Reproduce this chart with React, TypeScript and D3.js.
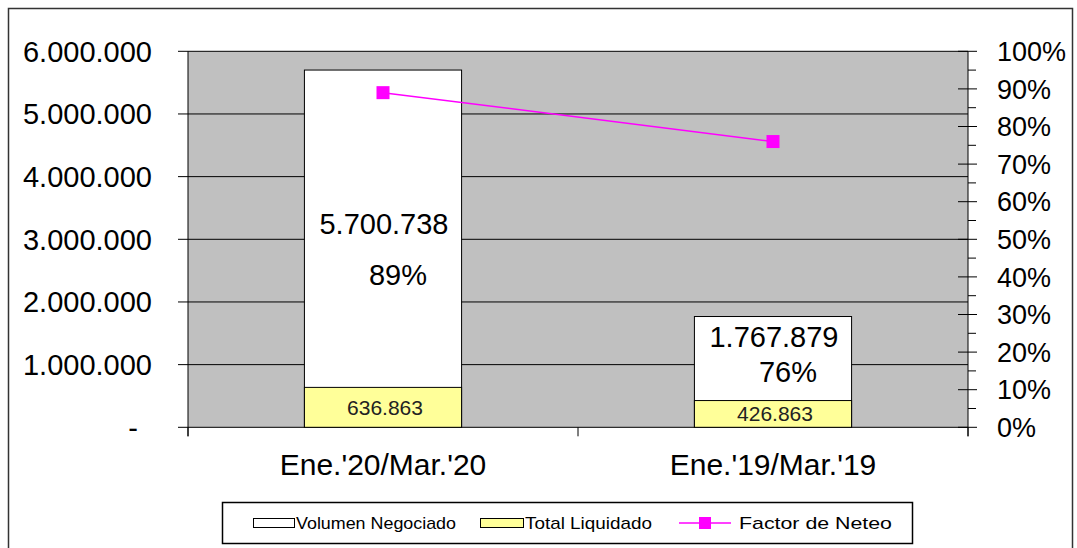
import React from "react";
import * as d3 from "d3";

const categories = ["Ene.'20/Mar.'20", "Ene.'19/Mar.'19"];
const volumenNegociado = [5700738, 1767879];
const totalLiquidado = [636863, 426863];
const factorNeteo = [0.89, 0.76];
const leftTicks = [0, 1000000, 2000000, 3000000, 4000000, 5000000, 6000000];
const rightTicks = [0, 0.1, 0.2, 0.3, 0.4, 0.5, 0.6, 0.7, 0.8, 0.9, 1.0];
const labelOffsets = [[5, 56], [-11.5, 23.5]];

const W = 1077, H = 548;
const FONT = "'Liberation Sans', Arial, sans-serif";

const fmt = (v: number) => {
  if (v === 0) return "-";
  return d3.format(",")(v).replace(/,/g, ".");
};

export default function App() {
  const plot = { left: 188, right: 968, top: 51.3, bottom: 427.3 };
  const x = d3.scaleBand<string>().domain(categories).range([plot.left, plot.right]).paddingInner(0.597).paddingOuter(0.2985);
  const y = d3.scaleLinear().domain([0, 6000000]).range([plot.bottom, plot.top]);
  const y2 = d3.scaleLinear().domain([0, 1]).range([plot.bottom, plot.top]);
  const cx = (c: string) => (x(c) as number) + x.bandwidth() / 2;
  const line = d3.line<number>().x((_, i) => cx(categories[i])).y((d) => y2(d));
  const minorTicks = d3.range(0.05, 1, 0.1);
  const catBounds = [plot.left, (plot.left + plot.right) / 2, plot.right];

  return (
    <svg width={W} height={H} style={{ position: "absolute", left: 0, top: 0, background: "#fff" }} fontFamily={FONT}>
      {/* outer border */}
      <rect x={8.5} y={8.5} width={1064} height={560} fill="#fff" stroke="#333" strokeWidth={1.5} />
      {/* plot area */}
      <rect x={plot.left} y={plot.top} width={plot.right - plot.left} height={plot.bottom - plot.top} fill="#c0c0c0" />
      {/* gridlines + left ticks */}
      {leftTicks.map((t) => (
        <g key={t}>
          <line x1={plot.left - 10} x2={plot.right} y1={y(t)} y2={y(t)} stroke="#000" strokeWidth={1} />
          <text x={t === 0 ? 138 : 152} y={y(t)} dy="0.36em" textAnchor="end" fontSize={29} fill="#000">{fmt(t)}</text>
        </g>
      ))}
      {/* left axis line */}
      <line x1={plot.left} x2={plot.left} y1={plot.top} y2={plot.bottom + 9} stroke="#000" />
      {/* category ticks */}
      {catBounds.map((b, i) => (
        <line key={i} x1={b} x2={b} y1={plot.bottom} y2={plot.bottom + 9} stroke="#000" />
      ))}
      {/* bars */}
      {categories.map((c, i) => (
        <g key={c}>
          <rect x={x(c)} y={y(volumenNegociado[i])} width={x.bandwidth()} height={y(0) - y(volumenNegociado[i])} fill="#fff" stroke="#000" strokeWidth={1} />
          <rect x={x(c)} y={y(totalLiquidado[i])} width={x.bandwidth()} height={y(0) - y(totalLiquidado[i])} fill="#ffff99" stroke="#000" strokeWidth={1} />
          <text x={cx(c) + 2} y={(y(totalLiquidado[i]) + y(0)) / 2} dy="0.36em" textAnchor="middle" fontSize={21} fill="#222">{fmt(totalLiquidado[i])}</text>
        </g>
      ))}
      {/* value labels */}
      {categories.map((c, i) => {
        const mid = (y(volumenNegociado[i]) + y(totalLiquidado[i])) / 2;
        return (
          <g key={c + "l"}>
            <text x={cx(c) + 1} y={mid + labelOffsets[i][0]} textAnchor="middle" fontSize={29} fill="#000">{fmt(volumenNegociado[i])}</text>
            <text x={cx(c) + 15} y={mid + labelOffsets[i][1]} textAnchor="middle" fontSize={29} fill="#000">{Math.round(factorNeteo[i] * 100) + "%"}</text>
          </g>
        );
      })}
      {/* right axis */}
      <line x1={plot.right} x2={plot.right} y1={plot.top} y2={plot.bottom + 9} stroke="#000" />
      {rightTicks.map((t) => (
        <g key={t}>
          <line x1={plot.right - 10} x2={plot.right + 9} y1={y2(t)} y2={y2(t)} stroke="#000" />
          <text x={997} y={y2(t)} dy="0.36em" fontSize={27} fill="#000">{Math.round(t * 100) + "%"}</text>
        </g>
      ))}
      {minorTicks.map((t) => (
        <line key={t} x1={plot.right} x2={plot.right + 8} y1={y2(t)} y2={y2(t)} stroke="#000" />
      ))}
      {/* line series */}
      <path d={line(factorNeteo) || ""} fill="none" stroke="#ff00ff" strokeWidth={1.5} />
      {factorNeteo.map((v, i) => (
        <rect key={i} x={cx(categories[i]) - 6.5} y={y2(v) - 6.5} width={13} height={13} fill="#ff00ff" />
      ))}
      {/* category labels */}
      {categories.map((c) => (
        <text key={c + "c"} x={cx(c)} y={475} textAnchor="middle" fontSize={30} fill="#000">{c}</text>
      ))}
      {/* legend */}
      <rect x={222.5} y={502.5} width={690} height={41} fill="#fff" stroke="#000" strokeWidth={1.5} />
      <rect x={253.5} y={518.5} width={41} height={9} fill="#fff" stroke="#000" />
      <text x={296} y={529} fontSize={17} textLength={160} lengthAdjust="spacingAndGlyphs" fill="#000">Volumen Negociado</text>
      <rect x={480.5} y={518.5} width={43} height={9} fill="#ffff99" stroke="#000" />
      <text x={525} y={529} fontSize={17} textLength={127} lengthAdjust="spacingAndGlyphs" fill="#000">Total Liquidado</text>
      <line x1={679} x2={731} y1={523} y2={523} stroke="#ff00ff" strokeWidth={1.5} />
      <rect x={699} y={517} width={12} height={12} fill="#ff00ff" />
      <text x={739} y={529} fontSize={17} textLength={153} lengthAdjust="spacingAndGlyphs" fill="#000">Factor de Neteo</text>
    </svg>
  );
}
